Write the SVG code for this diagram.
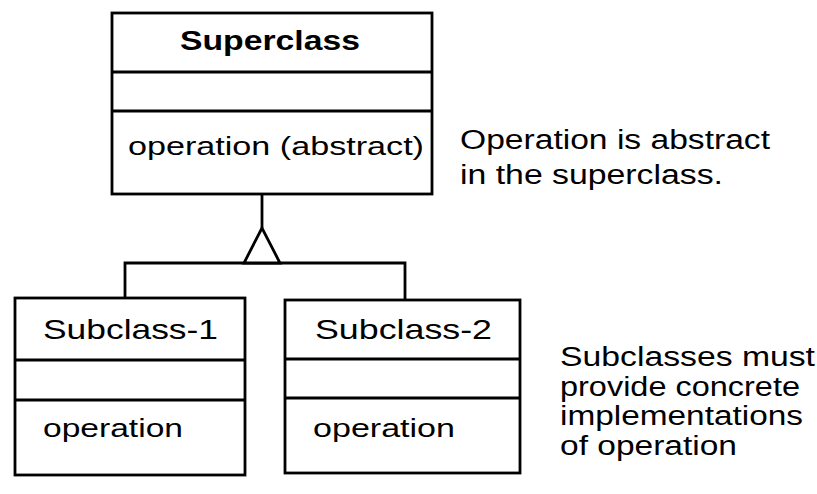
<svg xmlns="http://www.w3.org/2000/svg" width="817" height="494" viewBox="0 0 817 494">
<style>
.box{fill:#fff;stroke:#000;stroke-width:2.8}
.ln{fill:none;stroke:#000;stroke-width:2.8}
text{font-family:"Liberation Sans",Arial,sans-serif;fill:#000}
.title{font-size:28px}
.bold{font-weight:bold;font-size:27px}
.op{font-size:26px}
.note{font-size:27px}
</style>
<rect width="817" height="494" fill="#fff"/>
<g id="superclass">
<rect class="box" x="112" y="13" width="320" height="181"/>
<line class="ln" x1="112" y1="72" x2="432" y2="72"/>
<line class="ln" x1="112" y1="111" x2="432" y2="111"/>
<text class="bold" x="180" y="50" textLength="180" lengthAdjust="spacingAndGlyphs">Superclass</text>
<text class="op" x="128" y="155" textLength="296" lengthAdjust="spacingAndGlyphs">operation (abstract)</text>
</g>
<g id="connectors">
<line class="ln" x1="262" y1="194" x2="262" y2="228"/>
<polyline class="ln" points="125,298 125,263 405,263 405,300"/>
<polygon class="box" points="262,228 244,263 280,263"/>
</g>
<g id="subclass1">
<rect class="box" x="15" y="298" width="230" height="177"/>
<line class="ln" x1="15" y1="360" x2="245" y2="360"/>
<line class="ln" x1="15" y1="400" x2="245" y2="400"/>
<text class="title" x="43" y="339" textLength="175" lengthAdjust="spacingAndGlyphs">Subclass-1</text>
<text class="op" x="43" y="437" textLength="140" lengthAdjust="spacingAndGlyphs">operation</text>
</g>
<g id="subclass2">
<rect class="box" x="285" y="300" width="235" height="173"/>
<line class="ln" x1="285" y1="359" x2="520" y2="359"/>
<line class="ln" x1="285" y1="398" x2="520" y2="398"/>
<text class="title" x="315" y="339" textLength="177" lengthAdjust="spacingAndGlyphs">Subclass-2</text>
<text class="op" x="313" y="437" textLength="142" lengthAdjust="spacingAndGlyphs">operation</text>
</g>
<g id="note-abstract">
<text class="note" x="460" y="149" textLength="310" lengthAdjust="spacingAndGlyphs">Operation is abstract</text>
<text class="note" x="460" y="184" textLength="263" lengthAdjust="spacingAndGlyphs">in the superclass.</text>
</g>
<g id="note-subclasses">
<text class="note" x="560" y="366" textLength="255" lengthAdjust="spacingAndGlyphs">Subclasses must</text>
<text class="note" x="560" y="396" textLength="240" lengthAdjust="spacingAndGlyphs">provide concrete</text>
<text class="note" x="560" y="425" textLength="243" lengthAdjust="spacingAndGlyphs">implementations</text>
<text class="note" x="560" y="455" textLength="177" lengthAdjust="spacingAndGlyphs">of operation</text>
</g>
</svg>
